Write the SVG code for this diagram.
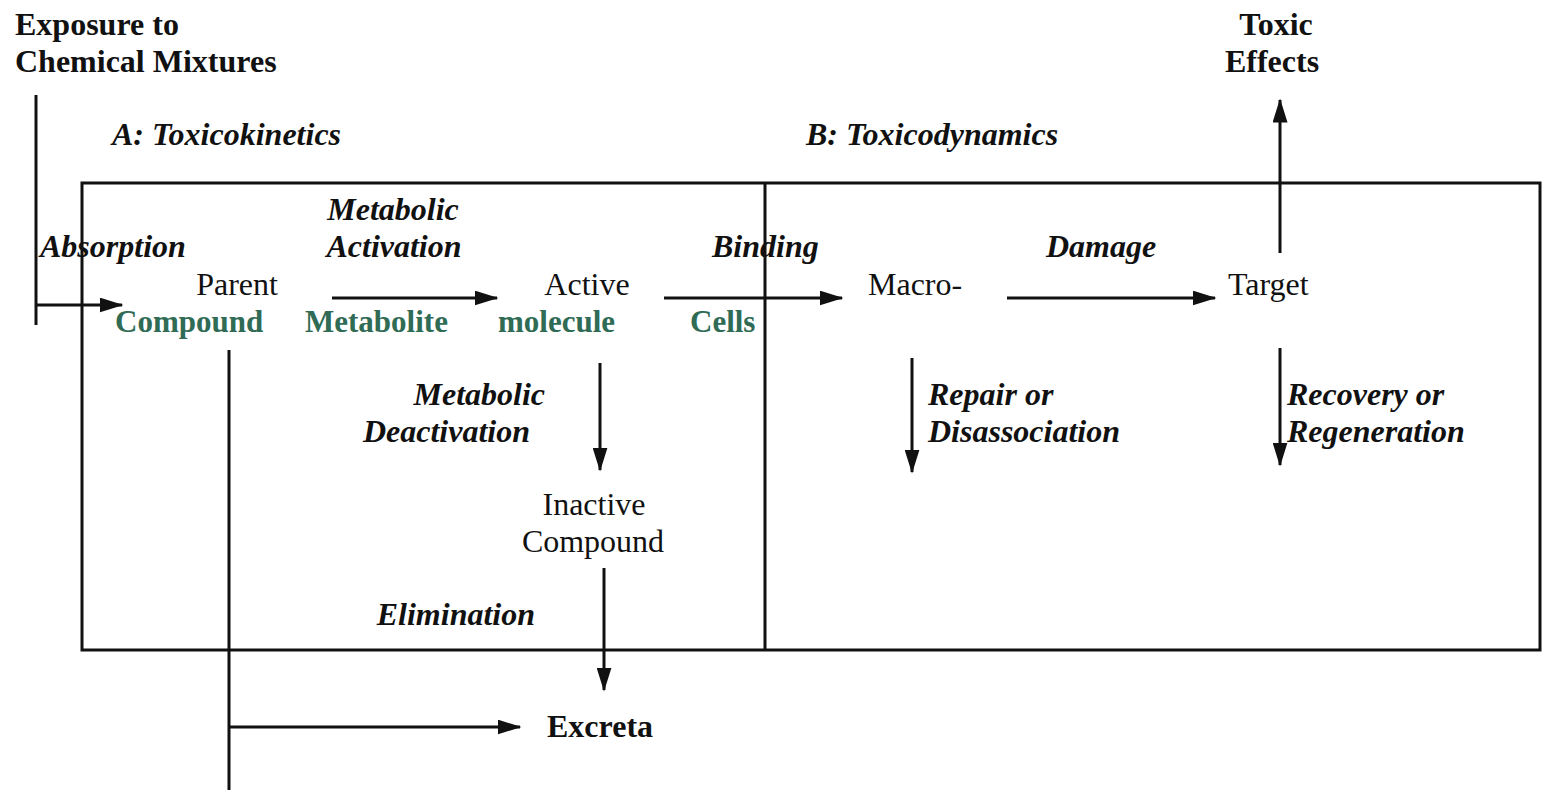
<svg xmlns="http://www.w3.org/2000/svg" width="1543" height="793" viewBox="0 0 1543 793">
<style>
text{font-family:"Liberation Serif","Times New Roman",serif;font-size:32px;fill:#111}
.b{font-weight:bold}
.bi{font-weight:bold;font-style:italic}
.g{fill:#2f6b55;font-size:31px}
.ln{stroke:#111;stroke-width:3;fill:none}
</style>
<defs>
<marker id="ah" markerWidth="8" markerHeight="5" refX="7.5" refY="2.5" orient="auto" markerUnits="strokeWidth">
<path d="M0,0 L8,2.5 L0,5 Z" fill="#111"/>
</marker>
</defs>
<rect width="1543" height="793" fill="#fff"/>
<g id="frame">
<rect x="82" y="183" width="1458" height="467" class="ln"/>
<line x1="765" y1="183" x2="765" y2="650" class="ln"/>
</g>
<g id="connectors">
<line x1="36" y1="95" x2="36" y2="325" class="ln"/>
<line x1="36" y1="305" x2="122" y2="305" class="ln" marker-end="url(#ah)"/>
<line x1="332" y1="298" x2="497" y2="298" class="ln" marker-end="url(#ah)"/>
<line x1="664" y1="298" x2="842" y2="298" class="ln" marker-end="url(#ah)"/>
<line x1="1007" y1="298" x2="1215" y2="298" class="ln" marker-end="url(#ah)"/>
<line x1="1280" y1="253" x2="1280" y2="100" class="ln" marker-end="url(#ah)"/>
<line x1="229" y1="350" x2="229" y2="790" class="ln"/>
<line x1="229" y1="727" x2="520" y2="727" class="ln" marker-end="url(#ah)"/>
<line x1="600" y1="363" x2="600" y2="470" class="ln" marker-end="url(#ah)"/>
<line x1="604" y1="568" x2="604" y2="690" class="ln" marker-end="url(#ah)"/>
<line x1="912" y1="358" x2="912" y2="472" class="ln" marker-end="url(#ah)"/>
<line x1="1280" y1="348" x2="1280" y2="465" class="ln" marker-end="url(#ah)"/>
</g>
<g id="exposure"><text class="b" x="15" y="35">Exposure to</text><text class="b" x="15" y="72">Chemical Mixtures</text></g>
<g id="toxic-effects"><text class="b" x="1276" y="35" text-anchor="middle">Toxic</text><text class="b" x="1272" y="72" text-anchor="middle">Effects</text></g>
<g id="section-a"><text class="bi" x="112" y="145">A: Toxicokinetics</text></g>
<g id="section-b"><text class="bi" x="806" y="145">B: Toxicodynamics</text></g>
<g id="absorption"><text class="bi" x="40" y="257">Absorption</text></g>
<g id="metabolic-activation"><text class="bi" x="393" y="220" text-anchor="middle">Metabolic</text><text class="bi" x="394" y="257" text-anchor="middle">Activation</text></g>
<g id="binding"><text class="bi" x="712" y="257">Binding</text></g>
<g id="damage"><text class="bi" x="1046" y="257">Damage</text></g>
<g id="parent"><text x="237" y="295" text-anchor="middle">Parent</text><text class="g b" x="115" y="332">Compound</text></g>
<g id="metabolite"><text class="g b" x="305" y="332">Metabolite</text></g>
<g id="active"><text x="587" y="295" text-anchor="middle">Active</text><text class="g b" x="498" y="332">molecule</text></g>
<g id="cells"><text class="g b" x="690" y="332">Cells</text></g>
<g id="macro"><text x="868" y="295">Macro-</text></g>
<g id="target"><text x="1228" y="295">Target</text></g>
<g id="metabolic-deactivation"><text class="bi" x="545" y="405" text-anchor="end">Metabolic</text><text class="bi" x="530" y="442" text-anchor="end">Deactivation</text></g>
<g id="inactive"><text x="594" y="515" text-anchor="middle">Inactive</text><text x="593" y="552" text-anchor="middle">Compound</text></g>
<g id="elimination"><text class="bi" x="535" y="625" text-anchor="end">Elimination</text></g>
<g id="excreta"><text class="b" x="547" y="737">Excreta</text></g>
<g id="repair"><text class="bi" x="928" y="405">Repair or</text><text class="bi" x="928" y="442">Disassociation</text></g>
<g id="recovery"><text class="bi" x="1287" y="405">Recovery or</text><text class="bi" x="1287" y="442">Regeneration</text></g>
</svg>
